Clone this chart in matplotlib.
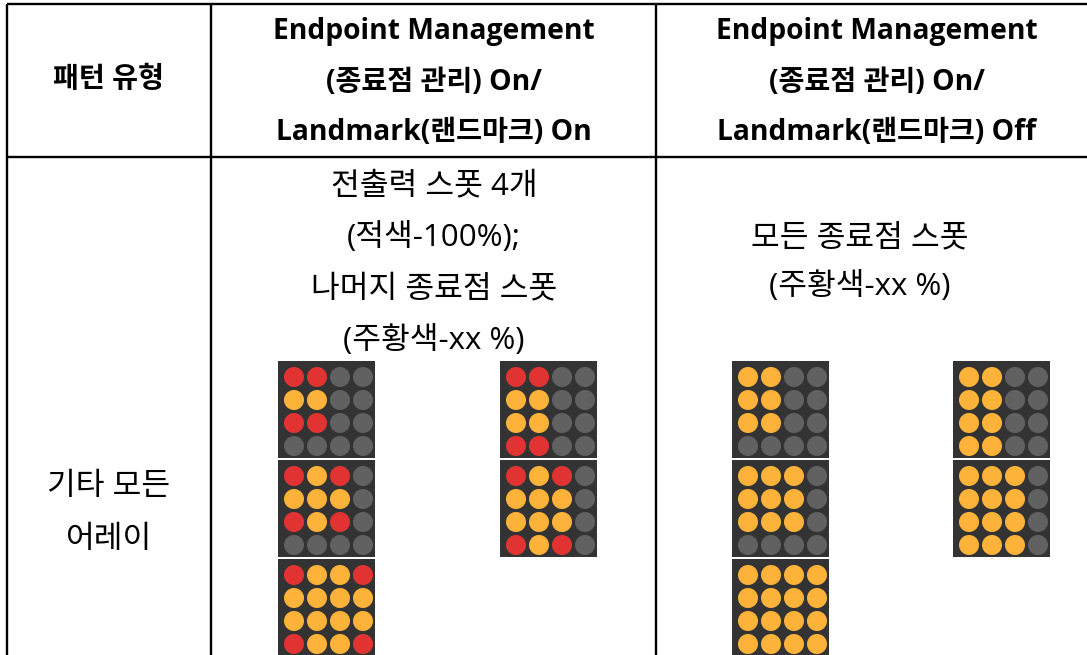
import matplotlib
matplotlib.use("Agg")
import matplotlib.pyplot as plt
from matplotlib.patches import Rectangle, Circle

plt.rcParams['font.family'] = ['Open Sans', 'Noto Sans CJK KR', 'DejaVu Sans']

# table text
header_first = "패턴 유형"
header_on = ["Endpoint Management", "(종료점 관리) On/", "Landmark(랜드마크) On"]
header_off = ["Endpoint Management", "(종료점 관리) On/", "Landmark(랜드마크) Off"]
row_label = ["기타 모든", "어레이"]
desc_on = ["전출력 스폿 4개", "(적색-100%);", "나머지 종료점 스폿", "(주황색-xx %)"]
desc_off = ["모든 종료점 스폿", "(주황색-xx %)"]

# LED patterns: R = red (100%), O = orange (xx %), G = off
on_left = [["RRGG", "OOGG", "RRGG", "GGGG"],
           ["RORG", "OOOG", "RORG", "GGGG"],
           ["ROOR", "OOOO", "OOOO", "ROOR"]]
on_right = [["RRGG", "OOGG", "OOGG", "RRGG"],
            ["RORG", "OOOG", "OOOG", "RORG"]]
off_left = [["OOGG", "OOGG", "OOGG", "GGGG"],
            ["OOOG", "OOOG", "OOOG", "GGGG"],
            ["OOOO", "OOOO", "OOOO", "OOOO"]]
off_right = [["OOGG", "OOGG", "OOGG", "OOGG"],
             ["OOOG", "OOOG", "OOOG", "OOOG"]]

dot_colors = {"R": "#e23333", "O": "#fdb33a", "G": "#616161"}

W, H = 1087, 655
fig = plt.figure(figsize=(W / 100, H / 100), dpi=100)
ax = fig.add_axes([0, 0, 1, 1])
ax.set_xlim(0, W)
ax.set_ylim(H, 0)
ax.axis('off')

# grid lines
lw = 1.7
ax.plot([7, W], [4, 4], color='black', lw=lw, solid_capstyle='butt')
ax.plot([7, W], [157, 157], color='black', lw=lw, solid_capstyle='butt')
for x in [7, 211, 656]:
    ax.plot([x, x], [4, H], color='black', lw=lw, solid_capstyle='butt')

fs_head = 20.3
fs_body = 22.5
ax.text(108, 80, header_first, ha='center', va='center', fontsize=fs_head, fontweight='bold')
for i, t in enumerate(header_on):
    ax.text(434, 31 + i * 51, t, ha='center', va='center', fontsize=fs_head, fontweight='bold')
for i, t in enumerate(header_off):
    ax.text(877, 31 + i * 51, t, ha='center', va='center', fontsize=fs_head, fontweight='bold')

for i, t in enumerate(row_label):
    ax.text(109, 487 + i * 53, t, ha='center', va='center', fontsize=fs_body)
for i, t in enumerate(desc_on):
    ax.text(434, 186 + i * 51.5, t, ha='center', va='center', fontsize=fs_body)
for i, t in enumerate(desc_off):
    ax.text(860, 238 + i * 48, t, ha='center', va='center', fontsize=fs_body)


def draw_panel(x0, y0, pattern, size=97):
    bg = Rectangle((x0, y0), size, size, facecolor='#333333', edgecolor='none')
    ax.add_patch(bg)
    for r, row in enumerate(pattern):
        for c, ch in enumerate(row):
            circ = Circle((x0 + 16 + c * 23, y0 + 16 + r * 23), 10,
                          facecolor=dot_colors[ch], edgecolor='none')
            ax.add_patch(circ)
            circ.set_clip_path(bg)


def draw_stack(x0, patterns):
    for k, p in enumerate(patterns):
        draw_panel(x0, 361 + k * 99, p)


draw_stack(278, on_left)
draw_stack(500, on_right)
draw_stack(732, off_left)
draw_stack(953, off_right)

fig.savefig("out.png", dpi=100)
